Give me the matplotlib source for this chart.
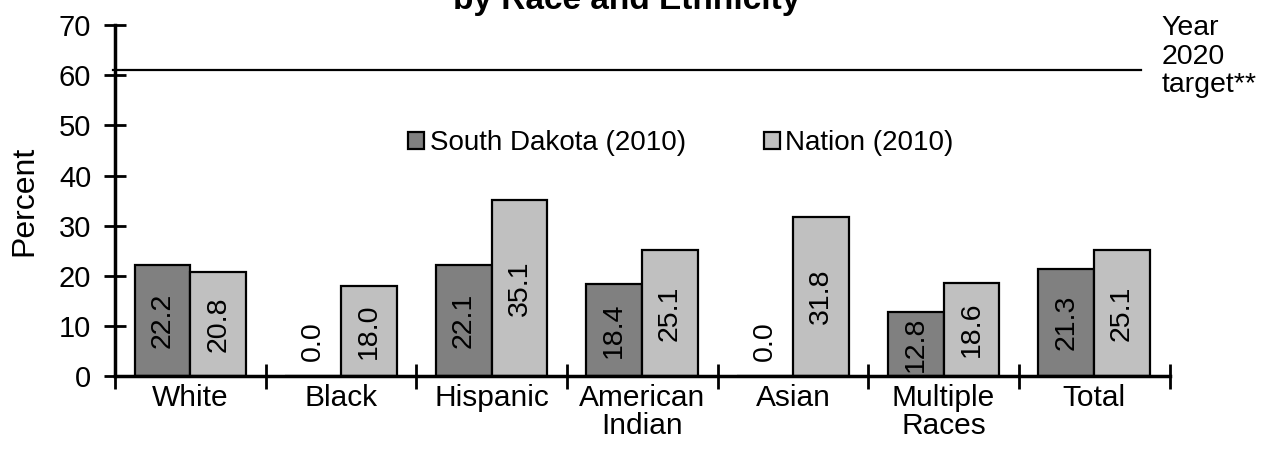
#!/usr/bin/env python3
# bar chart: South Dakota vs Nation (2010) by race and ethnicity

import numpy as np
import matplotlib
matplotlib.use('Agg')
import matplotlib.pyplot as plt

### data
categories = ['White', 'Black', 'Hispanic', 'American\nIndian', 'Asian',
              'Multiple\nRaces', 'Total']
south_dakota = [22.2, 0.0, 22.1, 18.4, 0.0, 12.8, 21.3]
nation = [20.8, 18.0, 35.1, 25.1, 31.8, 18.6, 25.1]
target = 61.1
series_names = ['South Dakota (2010)', 'Nation (2010)']

plt.rcParams['font.family'] = ['Liberation Sans', 'DejaVu Sans']

fig = plt.figure(figsize=(12.63, 4.57), dpi=100)
ax = fig.add_axes([0.091, 0.177, 0.835, 0.768])

x = np.arange(len(categories))
w = 0.37
ax.bar(x - w / 2, south_dakota, w, color='#808080', edgecolor='black',
       linewidth=1.6, label=series_names[0])
ax.bar(x + w / 2, nation, w, color='#c0c0c0', edgecolor='black',
       linewidth=1.6, label=series_names[1])

# value labels, rotated, in the middle of each bar
for xs, vals in ((x - w / 2, south_dakota), (x + w / 2, nation)):
    for xi, v in zip(xs, vals):
        ypos = v / 2 if v > 0 else 7
        ax.text(xi, ypos, '%.1f' % v, rotation=90, ha='center', va='center',
                fontsize=20.5)

# 2020 target line
ax.plot([-0.51, 6.31], [target, target], color='black', linewidth=1.6,
        clip_on=False)
ax.text(6.445, 72.0, 'Year\n2020\ntarget**', ha='left', va='top',
        fontsize=20.5, linespacing=1.12, clip_on=False)

ax.set_xlim(-0.5, 6.5)
ax.set_ylim(0, 70)
ax.set_yticks(range(0, 71, 10))
ax.set_xticks(np.arange(-0.5, 7, 1))
ax.set_xticklabels([])
ax.set_xticks(x, minor=True)
ax.set_xticklabels(categories, minor=True, fontsize=21.5, linespacing=0.98)
ax.tick_params(axis='x', which='minor', length=0, pad=6)
ax.tick_params(axis='x', which='major', direction='inout', length=18,
               width=2)
ax.tick_params(axis='y', direction='inout', length=16, width=2,
               labelsize=21, pad=9)
ax.set_ylabel('Percent', fontsize=23, labelpad=14)

for s in ('top', 'right'):
    ax.spines[s].set_visible(False)
for s in ('left', 'bottom'):
    ax.spines[s].set_linewidth(2.5)

ax.legend(loc='center left', bbox_to_anchor=(0.278, 0.664), ncol=2,
          frameon=False, fontsize=20, handlelength=0.58, handleheight=0.58,
          handletextpad=0.2, columnspacing=2.8, borderpad=0,
          borderaxespad=0)

fig.text(0.496, 1 - 9 / 457, 'by Race and Ethnicity', ha='center',
         va='baseline', fontsize=24, fontweight='bold')

fig.savefig('out.png', dpi=100)
